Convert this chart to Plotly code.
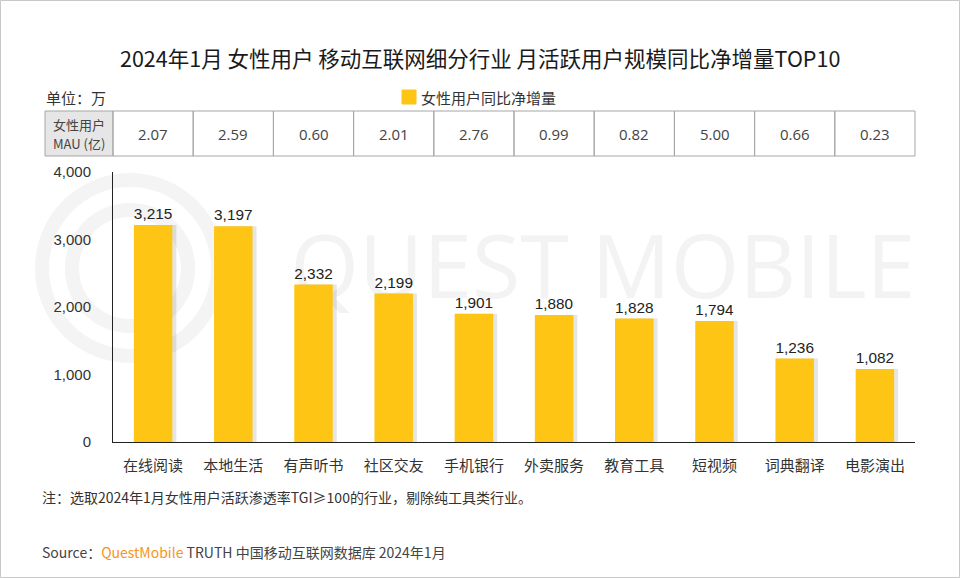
import plotly.graph_objects as go

categories = ["在线阅读", "本地生活", "有声听书", "社区交友", "手机银行", "外卖服务", "教育工具", "短视频", "词典翻译", "电影演出"]
net_increase = [3215, 3197, 2332, 2199, 1901, 1880, 1828, 1794, 1236, 1082]
mau_yi = ["2.07", "2.59", "0.60", "2.01", "2.76", "0.99", "0.82", "5.00", "0.66", "0.23"]
y_ticks = [0, 1000, 2000, 3000, 4000]

W, H = 960, 578
ML, MR, MT, MB = 113, 45, 172, 136
PW = W - ML - MR
PH = H - MT - MB

def px(x):
    return (x - ML) / PW

def py(y):
    return (H - MB - y) / PH

FONT = "Noto Sans CJK SC, Microsoft YaHei, sans-serif"
NUMFONT = "Arial, Liberation Sans, sans-serif"

fig = go.Figure()

# shadow
fig.add_trace(go.Bar(
    x=categories, y=net_increase, width=0.48, offset=-0.24 + 0.05,
    marker=dict(color="rgba(0,0,0,0.10)", line=dict(width=0)),
    hoverinfo="skip", showlegend=False,
))
fig.add_trace(go.Bar(
    x=categories, y=net_increase, width=0.48, offset=-0.24,
    marker=dict(color="#FEC514", line=dict(width=0)),
    text=[f"{v:,}" for v in net_increase], textposition="outside",
    textfont=dict(size=15.5, color="#222222", family=NUMFONT),
    cliponaxis=False, showlegend=False,
))

shapes = []
annotations = []

# outer border
shapes.append(dict(type="rect", xref="paper", yref="paper",
                   x0=px(0.5), x1=px(W - 0.5), y0=py(0.5), y1=py(H - 0.5),
                   line=dict(color="#c8c8c8", width=1), layer="below"))

# watermark rings
for r in (88, 58):
    shapes.append(dict(type="circle", xref="paper", yref="paper",
                       x0=px(130 - r), x1=px(130 + r), y0=py(268 + r), y1=py(268 - r),
                       line=dict(color="#f4f4f4", width=14), layer="below"))
# watermark text (shape label keeps it beneath the bars)
shapes.append(dict(type="rect", xref="paper", yref="paper",
                   x0=px(290), x1=px(916), y0=py(310), y1=py(230),
                   line=dict(width=0), fillcolor="rgba(0,0,0,0)", layer="below",
                   label=dict(text="QUEST MOBILE", textposition="middle center",
                              font=dict(size=88, color="#f3f3f3", family="Open Sans, sans-serif"))))

# table
tab_top, tab_bot = 111, 156
col0_l, col0_r = 45, 113
col_w = PW / len(categories)
shapes.append(dict(type="rect", xref="paper", yref="paper",
                   x0=px(col0_l), x1=px(col0_r), y0=py(tab_bot), y1=py(tab_top),
                   fillcolor="#e6e6e6", line=dict(color="#a6a6a6", width=1)))
for i in range(len(categories)):
    x0 = ML + i * col_w
    shapes.append(dict(type="rect", xref="paper", yref="paper",
                       x0=px(x0), x1=px(x0 + col_w), y0=py(tab_bot), y1=py(tab_top),
                       line=dict(color="#a6a6a6", width=1)))
    annotations.append(dict(text=mau_yi[i], xref="paper", yref="paper",
                            x=px(x0 + col_w / 2), y=py((tab_top + tab_bot) / 2),
                            showarrow=False, xanchor="center", yanchor="middle",
                            font=dict(size=15, color="#444444", family="Open Sans, sans-serif")))
for txt, yy in (("女性用户", 124), ("MAU (亿)", 143)):
    annotations.append(dict(text=txt, xref="paper", yref="paper",
                            x=px((col0_l + col0_r) / 2), y=py(yy),
                            showarrow=False, xanchor="center", yanchor="middle",
                            font=dict(size=13, color="#444444", family=FONT)))

# title
annotations.append(dict(text="2024年1月 女性用户 移动互联网细分行业 月活跃用户规模同比净增量TOP10",
                        xref="paper", yref="paper", x=px(480), y=py(57),
                        showarrow=False, xanchor="center", yanchor="middle",
                        font=dict(size=21.5, color="#1a1a1a", family=FONT)))
# unit
annotations.append(dict(text="单位：万", xref="paper", yref="paper", x=px(44), y=py(97),
                        showarrow=False, xanchor="left", yanchor="middle",
                        font=dict(size=15, color="#333333", family=FONT)))
# legend
shapes.append(dict(type="rect", xref="paper", yref="paper",
                   x0=px(402), x1=px(416), y0=py(104), y1=py(90),
                   fillcolor="#FEC514", line=dict(color="#FEC514", width=1)))
annotations.append(dict(text="女性用户同比净增量", xref="paper", yref="paper", x=px(419), y=py(97),
                        showarrow=False, xanchor="left", yanchor="middle",
                        font=dict(size=15, color="#333333", family=FONT)))
# note
annotations.append(dict(text="注：选取2024年1月女性用户活跃渗透率TGI≥100的行业，剔除纯工具类行业。",
                        xref="paper", yref="paper", x=px(40), y=py(497),
                        showarrow=False, xanchor="left", yanchor="middle",
                        font=dict(size=14, color="#333333", family=FONT)))
annotations.append(dict(text="Source：<span style='color:#F7941D'>QuestMobile</span> TRUTH 中国移动互联网数据库 2024年1月",
                        xref="paper", yref="paper", x=px(40), y=py(552),
                        showarrow=False, xanchor="left", yanchor="middle",
                        font=dict(size=14, color="#444444", family=FONT)))

fig.update_layout(
    width=W, height=H,
    margin=dict(l=ML, r=MR, t=MT, b=MB, pad=0),
    paper_bgcolor="white", plot_bgcolor="rgba(0,0,0,0)",
    barmode="overlay",
    shapes=shapes, annotations=annotations,
    xaxis=dict(showgrid=False, showline=True, linecolor="#222222", linewidth=1,
               ticks="", ticklabelstandoff=10, tickfont=dict(size=15, color="#333333", family=FONT),
               range=[-0.5, len(categories) - 0.5], fixedrange=True),
    yaxis=dict(range=[0, 4000], tickvals=y_ticks, tickformat=",",
               showgrid=False, showline=True, linecolor="#222222", linewidth=1,
               ticks="", ticklabelstandoff=18, zeroline=False,
               tickfont=dict(size=15, color="#333333", family=NUMFONT)),
    font=dict(family=FONT),
)

fig.write_html("out.html", config={"displayModeBar": False},
               post_script="document.body.style.margin='0';")
